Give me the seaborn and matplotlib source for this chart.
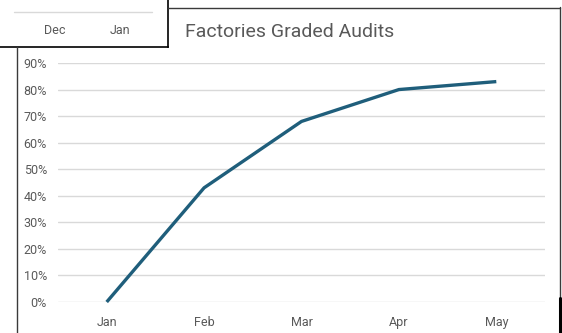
import matplotlib
matplotlib.use("Agg")
import matplotlib.pyplot as plt
import seaborn as sns
import pandas as pd
from matplotlib.lines import Line2D

months = ["Jan", "Feb", "Mar", "Apr", "May"]
graded_share = [0.00, 0.43, 0.68, 0.80, 0.83]
y_ticks = [0.0, 0.1, 0.2, 0.3, 0.4, 0.5, 0.6, 0.7, 0.8, 0.9]
prev_months = ["Dec", "Jan"]

sns.set_theme(style="white")
plt.rcParams["font.family"] = ["Roboto", "DejaVu Sans"]

W, H = 562, 333
fig = plt.figure(figsize=(W / 100, H / 100), dpi=100)
fig.patch.set_facecolor("white")


def fx(x):
    return x / W


def fy(y):
    return 1 - y / H


TEXT = "#595959"
GRID = "#d9d9d9"
LINE = "#1f5e7b"

# chart frame (partly hidden behind the neighbouring chart in the corner)
fig.add_artist(Line2D([fx(16.5), fx(16.5)], [fy(46.5), fy(333)], color="#3a3a3a", lw=1.0))
fig.add_artist(Line2D([fx(168), fx(559.5)], [fy(7.5), fy(7.5)], color="#3a3a3a", lw=1.0))
fig.add_artist(Line2D([fx(559.5), fx(559.5)], [fy(7), fy(300)], color="#3a3a3a", lw=1.0))
fig.add_artist(Line2D([fx(560), fx(560)], [fy(298), fy(333)], color="black", lw=2.2))

# main plot
ax = fig.add_axes([fx(58), fy(302), fx(545) - fx(58), fy(63) - fy(302)])
df = pd.DataFrame({"month": months, "share": graded_share})
sns.lineplot(data=df, x="month", y="share", ax=ax, color=LINE, linewidth=2.4,
             sort=False, clip_on=False, solid_capstyle="butt")
ax.set_xlim(-0.5, len(months) - 0.5)
ax.set_ylim(0, 0.9)
ax.set_yticks(y_ticks)
ax.set_yticklabels([f"{int(round(t * 100))}%" for t in y_ticks])
ax.yaxis.grid(True, color=GRID, linewidth=1.0)
ax.set_axisbelow(True)
for s in ax.spines.values():
    s.set_visible(False)
ax.tick_params(axis="y", length=0, pad=8, labelsize=9, labelcolor=TEXT)
ax.tick_params(axis="x", length=0, pad=10, labelsize=9, labelcolor=TEXT)
ax.set_xlabel("")
ax.set_ylabel("")
ax.patch.set_alpha(0)

fig.text(fx(290), fy(32), "Factories Graded Audits", ha="center", va="center",
         fontsize=14, color=TEXT)

# neighbouring chart overlapping the top-left corner
ax2 = fig.add_axes([0, fy(46.5), fx(168), 1 - fy(46.5)])
ax2.set_facecolor("white")
ax2.set_xlim(0, 168)
ax2.set_ylim(46.5, 0)
ax2.plot([14, 152], [12, 12], color=GRID, lw=1.0)
for lab, xp in zip(prev_months, [55, 120]):
    ax2.text(xp, 30, lab, ha="center", va="center", fontsize=9, color=TEXT)
ax2.set_xticks([])
ax2.set_yticks([])
for k in ["top", "left"]:
    ax2.spines[k].set_visible(False)
for k in ["right", "bottom"]:
    ax2.spines[k].set_color("black")
    ax2.spines[k].set_linewidth(1.2)

fig.savefig("out.png", dpi=100, facecolor="white")
